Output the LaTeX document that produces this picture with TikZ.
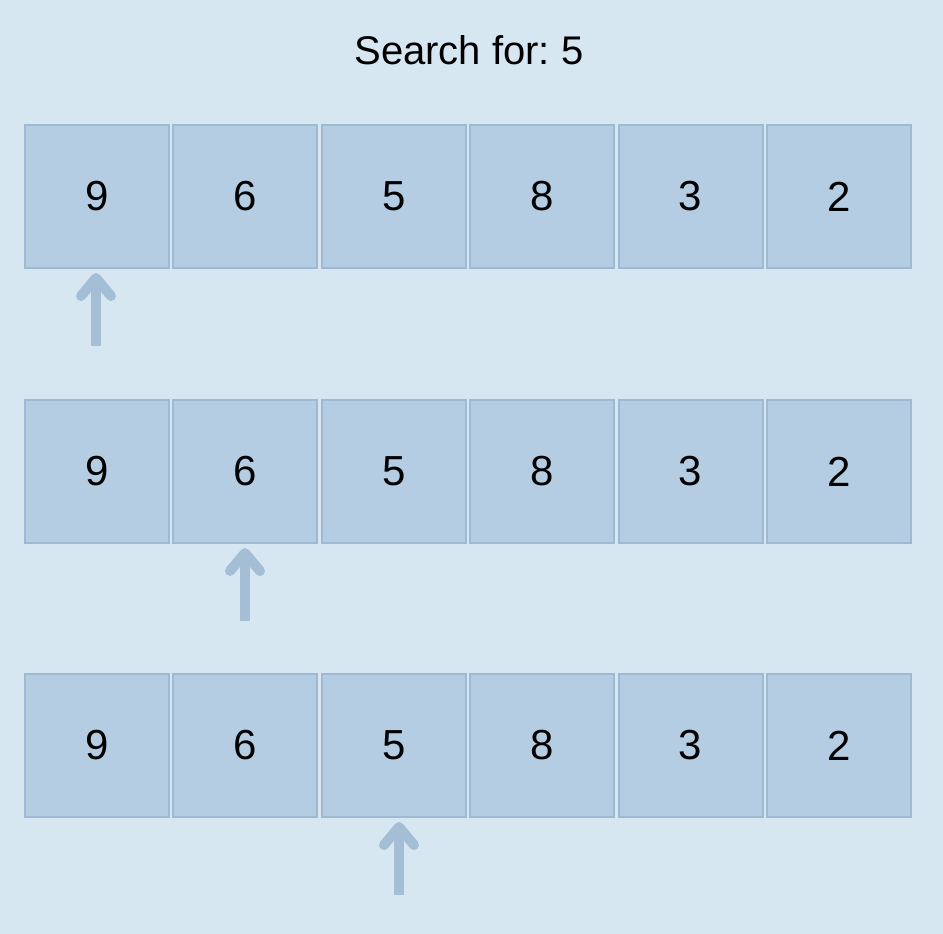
\documentclass[tikz,border=0pt]{standalone}
\usepackage{fontspec}
\setmainfont{Liberation Sans}
\usetikzlibrary{calc}
\definecolor{bgc}{HTML}{D6E7F1}
\definecolor{boxfill}{HTML}{B4CDE3}
\definecolor{boxline}{HTML}{9FB9D3}
\definecolor{arrc}{HTML}{A4BED6}
\frenchspacing
\tikzset{
  cell/.style={draw=boxline, fill=boxfill, line width=2pt, minimum width=144pt, minimum height=143pt, inner sep=0pt, font=\fontsize{42}{46}\selectfont, text=black},
  ptrshaft/.style={draw=arrc, line width=10pt, line cap=butt},
  ptrhead/.style={draw=arrc, line width=10pt, line cap=round, line join=round},
}
\begin{document}
\begin{tikzpicture}[x=1pt,y=-1pt]
\fill[bgc] (0,0) rectangle (943,934);
\useasboundingbox (0,0) rectangle (943,934);
\node[font=\fontsize{40}{44}\selectfont, text=black] (title) at (469,50) {Search for: 5};
\foreach \r/\yy in {1/196.5, 2/471.5, 3/745.5}{
  \foreach \c/\v [count=\i from 0] in {1/9,2/6,3/5,4/8,5/3,6/2}{
    \node[cell] (r\r c\c) at ({97+148.4*\i},\yy) {\v};
  }
}
% pointers
\foreach \r/\c/\xx in {1/1/96, 2/2/245, 3/3/399}{
  \coordinate (p\r) at ($(r\r c\c.south)+(0,77)$);
  \coordinate (t\r) at ($(r\r c\c.south)+(0,9)$);
  \path let \p1=(t\r) in coordinate (tt\r) at (\xx,\y1);
  \path let \p1=(p\r) in coordinate (pp\r) at (\xx,\y1);
  \draw[ptrshaft] (pp\r) -- (tt\r);
  \draw[ptrhead] ($(tt\r)+(-15,18)$) -- (tt\r) -- ($(tt\r)+(15,18)$);
}
\end{tikzpicture}
\end{document}
